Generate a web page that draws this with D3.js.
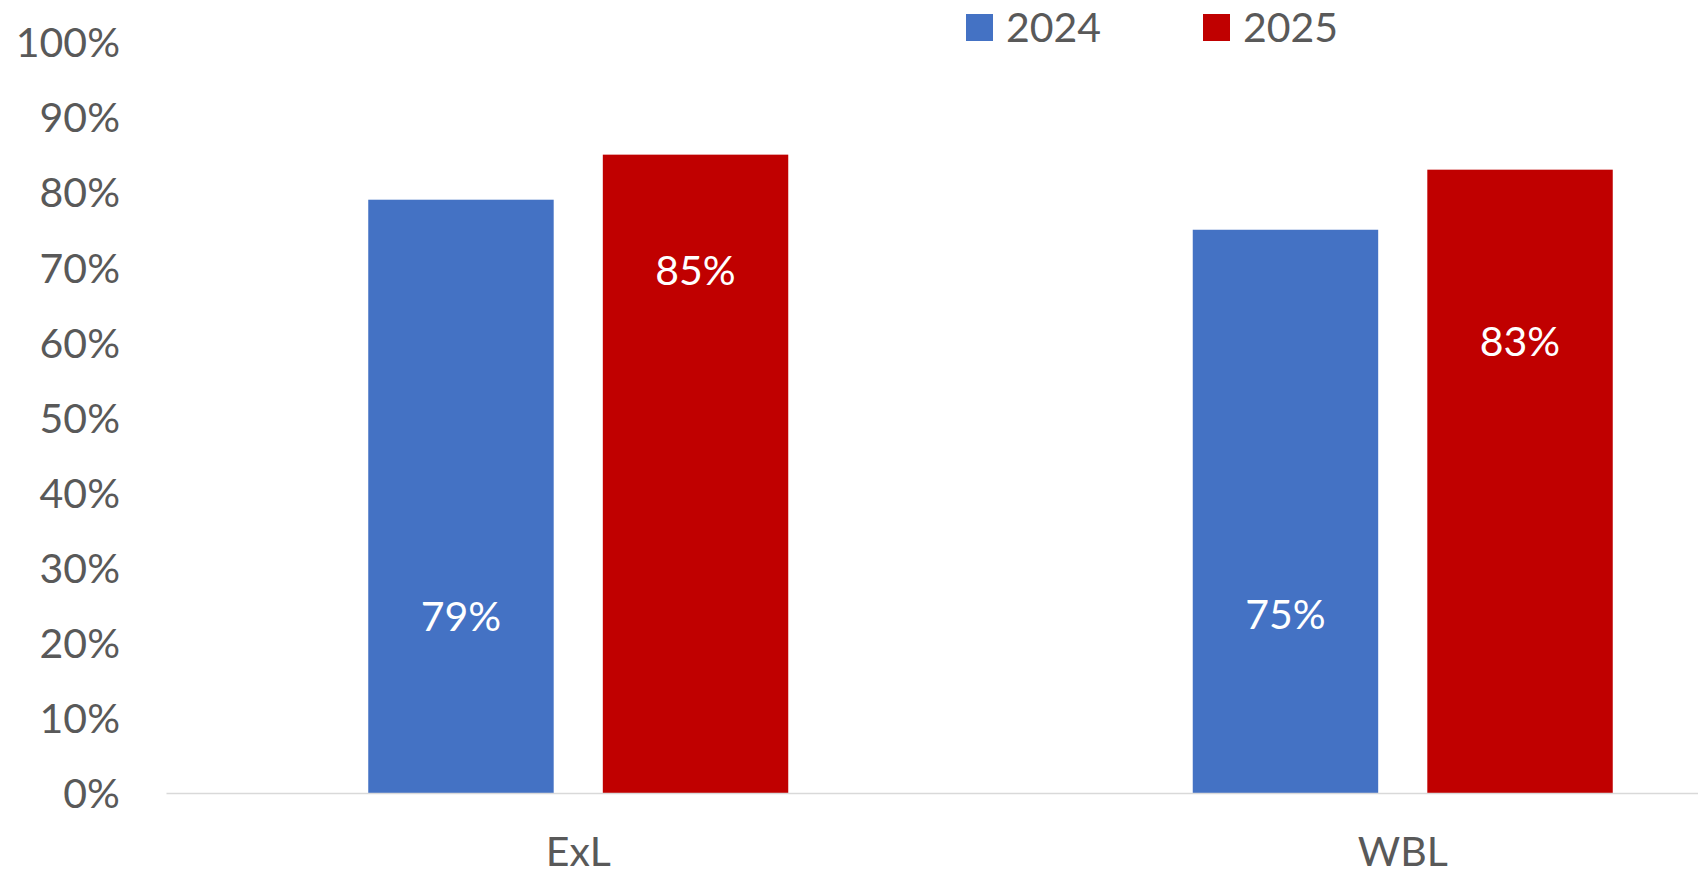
<!DOCTYPE html>
<html>
<head>
<meta charset="utf-8">
<script src="https://cdn.jsdelivr.net/npm/d3@7"></script>
<style>
  html, body { margin: 0; padding: 0; background: #ffffff; }
  svg { display: block; }
  text { font-family: Lato, Calibri, "Open Sans", sans-serif; }
</style>
</head>
<body>
<svg id="chart" width="1698" height="875"></svg>
<script>
// Categories, series and values
const categories = ["ExL", "WBL"];
const seriesNames = ["2024", "2025"];
const values2024 = [0.79, 0.75];
const values2025 = [0.85, 0.83];
const yTickValues = [0, 0.1, 0.2, 0.3, 0.4, 0.5, 0.6, 0.7, 0.8, 0.9, 1.0];

// Where each value label sits inside its bar, in axis units
const labelLevels2024 = [0.235, 0.238];
const labelLevels2025 = [0.696, 0.601];

const colors = { "2024": "#4472C4", "2025": "#C00000" };
const textColor = "#595959";
const fontSize = 41;

const svg = d3.select("#chart");

// Plot area; the category band continues past the right edge of the page
const plotLeft = 166, bandEnd = 1815;
const yBottom = 793, yTop = 42;

const x0 = d3.scaleBand().domain(categories).range([plotLeft, bandEnd]).paddingInner(0).paddingOuter(0);
const groupWidth = 420;
const x1 = d3.scaleBand().domain(seriesNames).range([-groupWidth / 2, groupWidth / 2]).paddingInner(0.2094).paddingOuter(0);
const y = d3.scaleLinear().domain([0, 1]).range([yBottom, yTop]);

const rows = categories.map((c, i) => ({
  category: c,
  bars: [
    { series: "2024", value: values2024[i], level: labelLevels2024[i] },
    { series: "2025", value: values2025[i], level: labelLevels2025[i] }
  ]
}));

// Y axis: percentage labels only
const yAxis = d3.axisLeft(y)
  .tickValues(yTickValues)
  .tickFormat(d3.format(".0%"))
  .tickSize(0)
  .tickPadding(46);

const gy = svg.append("g").attr("transform", `translate(${plotLeft},0)`).call(yAxis);
gy.select(".domain").remove();
gy.selectAll("text")
  .attr("fill", textColor)
  .attr("font-size", fontSize)
  .attr("dy", "0.36em")
  .style("font-family", "Lato, Calibri, sans-serif");

// Bars
const groups = svg.append("g").selectAll("g.cat")
  .data(rows)
  .join("g")
  .attr("class", "cat")
  .attr("transform", d => `translate(${x0(d.category) + x0.bandwidth() / 2},0)`);

groups.selectAll("rect")
  .data(d => d.bars)
  .join("rect")
  .attr("x", d => x1(d.series))
  .attr("width", x1.bandwidth())
  .attr("y", d => y(d.value))
  .attr("height", d => y(0) - y(d.value))
  .attr("fill", d => colors[d.series]);

// Value labels
groups.selectAll("text.value")
  .data(d => d.bars)
  .join("text")
  .attr("class", "value")
  .attr("x", d => x1(d.series) + x1.bandwidth() / 2)
  .attr("y", d => y(d.level))
  .attr("dy", "0.36em")
  .attr("text-anchor", "middle")
  .attr("fill", "#ffffff")
  .attr("font-size", fontSize)
  .text(d => d3.format(".0%")(d.value));

// X axis with baseline
const xAxis = d3.axisBottom(x0).tickSize(0).tickSizeOuter(0).tickPadding(44);
const gx = svg.append("g").attr("transform", `translate(0,${yBottom})`).call(xAxis);
gx.select(".domain").attr("stroke", "#D9D9D9").attr("stroke-width", 1.5);
gx.selectAll("text")
  .attr("fill", textColor)
  .attr("font-size", fontSize)
  .style("font-family", "Lato, Calibri, sans-serif");

// Legend
const legendX = d3.scaleOrdinal().domain(seriesNames).range([966, 1203]);
const legend = svg.append("g").selectAll("g.legend")
  .data(seriesNames)
  .join("g")
  .attr("class", "legend")
  .attr("transform", d => `translate(${legendX(d)},14)`);

legend.append("rect")
  .attr("width", 27)
  .attr("height", 27)
  .attr("fill", d => colors[d]);

legend.append("text")
  .attr("x", 40)
  .attr("y", 27.5)
  .attr("fill", textColor)
  .attr("font-size", fontSize)
  .text(d => d);
</script>
</body>
</html>
